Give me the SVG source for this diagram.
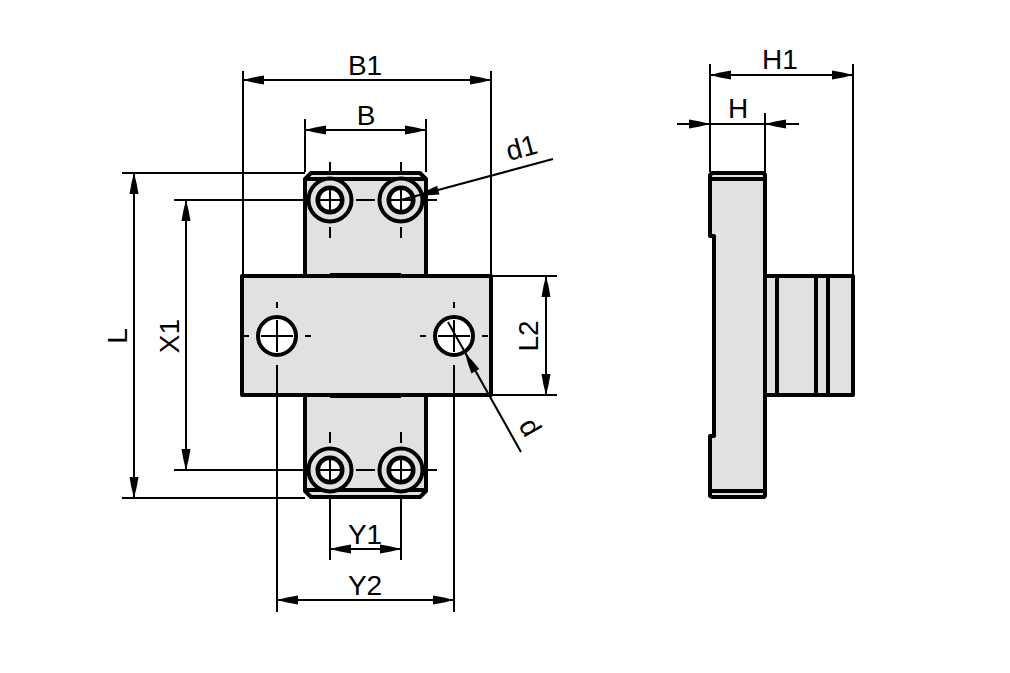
<svg xmlns="http://www.w3.org/2000/svg" width="1010" height="673" viewBox="0 0 1010 673">
<style>
.t{font-family:"Liberation Sans",Arial,sans-serif;font-size:28px;fill:#000}
.f{fill:#e1e1e1;stroke:#000;stroke-width:4;stroke-linejoin:round}
.r{fill:#e1e1e1;stroke:#000;stroke-width:4}
.o{fill:none;stroke:#000;stroke-width:4}
.d{fill:none;stroke:#000;stroke-width:2}
.c{fill:none;stroke:#000;stroke-width:2}
.h{fill:#fff;stroke:#000;stroke-width:4}
.s{fill:#fff;stroke:#000;stroke-width:4.5}
.a{fill:#000}
</style>
<defs>
<g id="head"><path class="a" d="M0 0L10 -2.5L21 -4.5L21 4.5L10 2.5Z"/></g>
<g id="screw">
<circle r="21.5" class="r"/>
<circle r="12.3" class="s"/>
<path class="c" d="M-10 0H10M0 -10V10"/>
<path class="c" d="M-35 0H-26M26 0H36M0 -38V-27M0 27V38"/>
</g>
<g id="hole">
<circle r="19" class="h"/>
<path class="c" d="M-16 0H16M0 -16V16M-34 0H-28M28 0H34M0 -34V-28"/>
</g>
</defs>
<g id="connectors">
<path class="d" d="M243 71V276M491 71V276M305 119V172M426 119V172"/>
<path class="d" d="M243 80H491M305 130H426"/>
<use href="#head" transform="translate(243 80)"/><use href="#head" transform="translate(491 80) rotate(180)"/>
<use href="#head" transform="translate(305 130)"/><use href="#head" transform="translate(426 130) rotate(180)"/>
<path class="d" d="M122 173H305M174 200H305M174 470H305M122 498H305"/>
<path class="d" d="M134 173V498M186 200V470"/>
<use href="#head" transform="translate(134 173) rotate(90)"/><use href="#head" transform="translate(134 498) rotate(-90)"/>
<use href="#head" transform="translate(186 200) rotate(90)"/><use href="#head" transform="translate(186 470) rotate(-90)"/>
<path class="d" d="M491 276H557M491 395H557M546 276V395"/>
<use href="#head" transform="translate(546 276) rotate(90)"/><use href="#head" transform="translate(546 395) rotate(-90)"/>
<path class="d" d="M330 498V560M401 498V560M277 395V612M454 395V612"/>
<path class="d" d="M330 549H401M277 600H454"/>
<use href="#head" transform="translate(330 549)"/><use href="#head" transform="translate(401 549) rotate(180)"/>
<use href="#head" transform="translate(277 600)"/><use href="#head" transform="translate(454 600) rotate(180)"/>
<path class="d" d="M710 64V172M853 64V276M765 113V172"/>
<path class="d" d="M710 75H853M677 124H799"/>
<use href="#head" transform="translate(710 75)"/><use href="#head" transform="translate(853 75) rotate(180)"/>
<use href="#head" transform="translate(710 124) rotate(180)"/><use href="#head" transform="translate(765 124)"/>
</g>
<g id="front-bar-vertical">
<path class="f" d="M305 179L311 173H420L426 179V276H305ZM305 395H426V491L420 497H311L305 491Z"/>
<path class="o" d="M306 179H425M306 490H425"/>
</g>
<g id="screw-tl"><use href="#screw" transform="translate(330 200)"/></g>
<g id="screw-tr"><use href="#screw" transform="translate(401 200)"/></g>
<g id="screw-bl"><use href="#screw" transform="translate(330 470)"/></g>
<g id="screw-br"><use href="#screw" transform="translate(401 470)"/></g>
<g id="front-bar-horizontal">
<rect class="f" x="242" y="276" width="249" height="119"/>
<path class="o" d="M330 275H401M330 396H401"/>
<path class="d" d="M277 365V395M454 365V395"/>
</g>
<g id="hole-left"><use href="#hole" transform="translate(277 336)"/></g>
<g id="hole-right"><use href="#hole" transform="translate(454 336)"/></g>
<g id="side-view">
<path class="f" d="M765 276H853V395H765Z"/>
<path class="o" d="M777 276V395M816 276V395M828 276V395"/>
<path class="f" d="M712 173H764L765 175V496L764 497H712L710 496V436H714V236H710V175Z"/>
<path class="o" d="M711 179H765M711 491H765"/>
</g>
<g id="leaders">
<path class="d" d="M401 200L553 159"/>
<use href="#head" transform="translate(418 195.500) rotate(-15)"/>
<path class="d" d="M448 322L521 452"/>
<use href="#head" transform="translate(465 353) rotate(60.500)"/>
</g>
<g id="labels">
<text class="t" x="365" y="75" text-anchor="middle">B1</text>
<text class="t" x="366" y="125" text-anchor="middle">B</text>
<text class="t" x="780" y="69" text-anchor="middle">H1</text>
<text class="t" x="738" y="118" text-anchor="middle">H</text>
<text class="t" x="365" y="544" text-anchor="middle">Y1</text>
<text class="t" x="365" y="595" text-anchor="middle">Y2</text>
<text class="t" text-anchor="middle" transform="translate(127 336) rotate(-90)">L</text>
<text class="t" text-anchor="middle" transform="translate(179 336) rotate(-90)">X1</text>
<text class="t" text-anchor="middle" transform="translate(538 336) rotate(-90)">L2</text>
<text class="t" text-anchor="middle" transform="translate(524 157) rotate(-15)">d1</text>
<text class="t" text-anchor="middle" transform="translate(522 432) rotate(60)">d</text>
</g>
</svg>
